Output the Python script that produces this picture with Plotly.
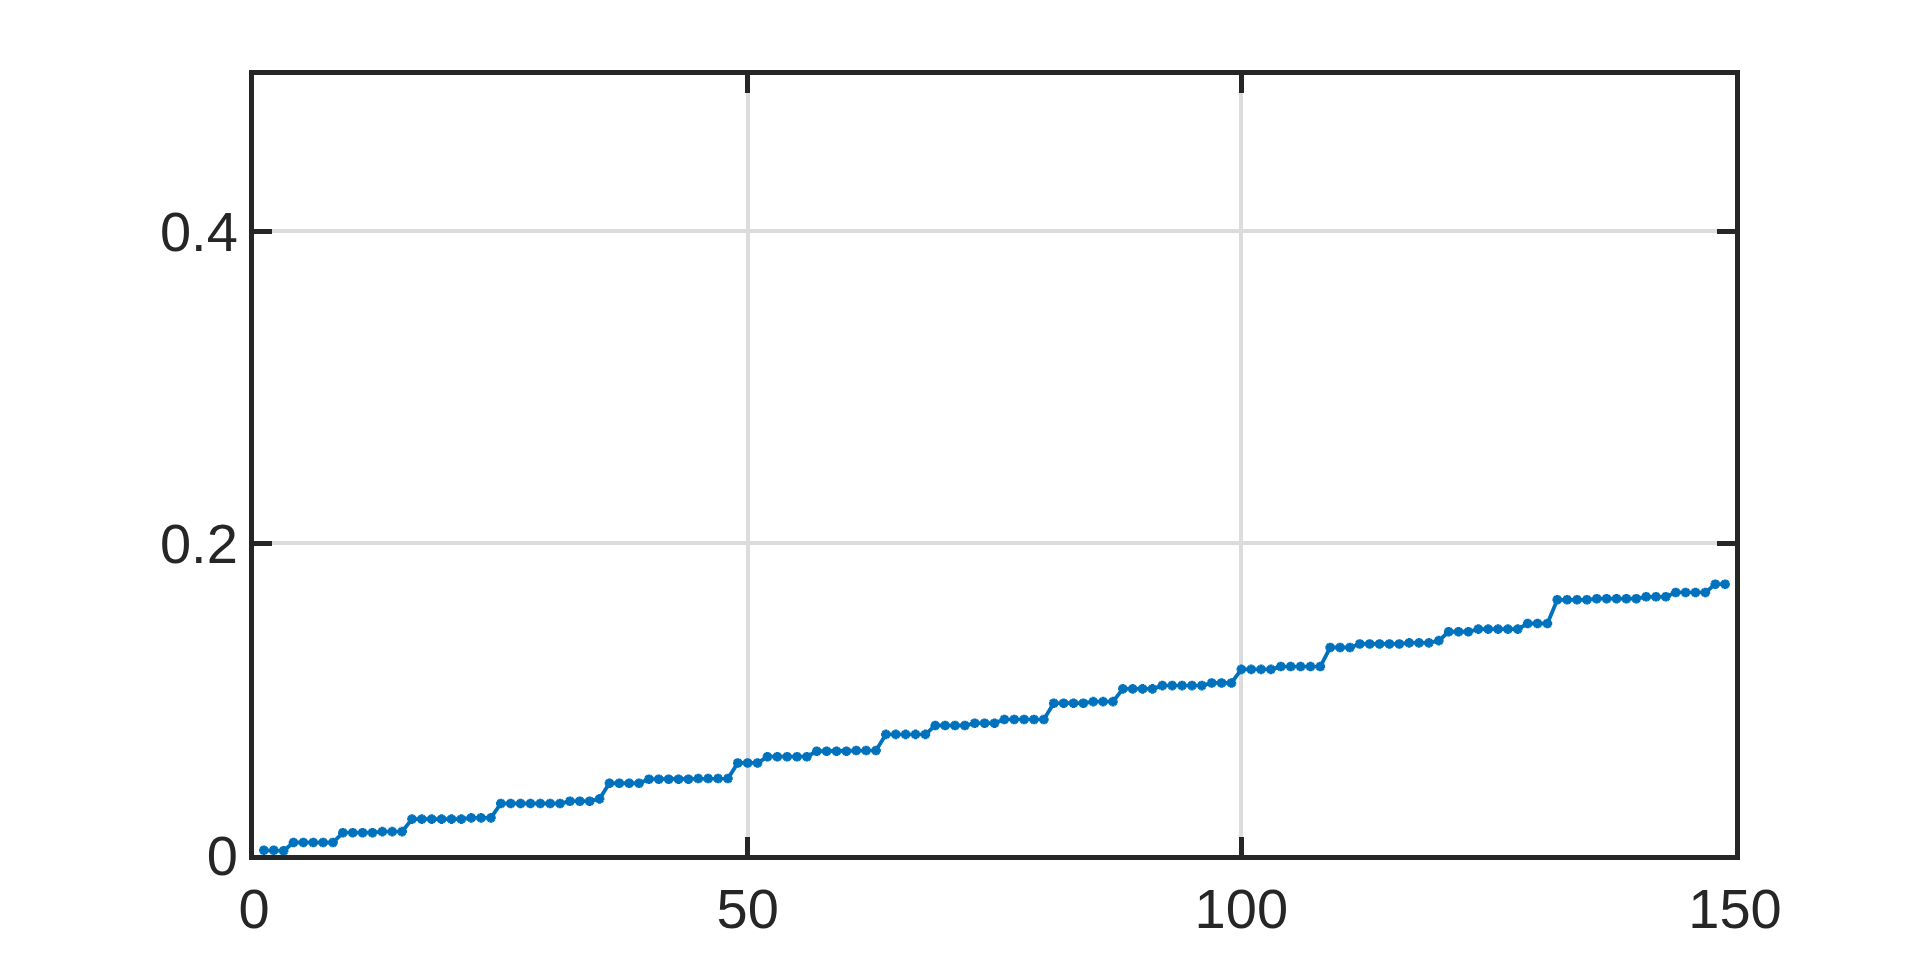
import plotly.graph_objects as go

# Data
x_values = list(range(1, 150))
y_values = [
    0.0030, 0.0030, 0.0027,
    0.0080, 0.0080, 0.0080, 0.0080, 0.0080,
    0.0143, 0.0143, 0.0143, 0.0143, 0.0150, 0.0150, 0.0150,
    0.0230, 0.0230, 0.0230, 0.0230, 0.0230, 0.0230, 0.0238, 0.0238, 0.0238,
    0.0330, 0.0330, 0.0330, 0.0330, 0.0330, 0.0330, 0.0330, 0.0345, 0.0345, 0.0345, 0.0360,
    0.0460, 0.0460, 0.0460, 0.0460,
    0.0486, 0.0486, 0.0486, 0.0486, 0.0486, 0.0490, 0.0490, 0.0490, 0.0490,
    0.0590, 0.0590, 0.0590,
    0.0630, 0.0630, 0.0630, 0.0630, 0.0630,
    0.0665, 0.0665, 0.0665, 0.0665, 0.0670, 0.0670, 0.0670,
    0.0773, 0.0773, 0.0773, 0.0773, 0.0773,
    0.0830, 0.0830, 0.0830, 0.0830, 0.0845, 0.0845, 0.0845,
    0.0869, 0.0869, 0.0869, 0.0869, 0.0869,
    0.0973, 0.0973, 0.0973, 0.0973, 0.0983, 0.0983, 0.0983,
    0.1065, 0.1065, 0.1065, 0.1065, 0.1086, 0.1086, 0.1086, 0.1086, 0.1086, 0.1103, 0.1103, 0.1103,
    0.1190, 0.1190, 0.1190, 0.1190, 0.1208, 0.1208, 0.1208, 0.1208, 0.1208,
    0.1330, 0.1330, 0.1330,
    0.1353, 0.1353, 0.1353, 0.1353, 0.1353, 0.1360, 0.1360, 0.1360,
    0.1374,
    0.1431, 0.1431, 0.1431,
    0.1448, 0.1448, 0.1448, 0.1448, 0.1448,
    0.1484, 0.1484, 0.1484,
    0.1636, 0.1636, 0.1636, 0.1636,
    0.1643, 0.1643, 0.1643, 0.1643, 0.1643,
    0.1655, 0.1655, 0.1655,
    0.1683, 0.1683, 0.1683, 0.1683,
    0.1736, 0.1736,
]

x_ticks = [0, 50, 100, 150]
y_ticks = [0, 0.2, 0.4]
y_tick_labels = ["0", "0.2", "0.4"]

line_color = "#0072BD"
axis_color = "#262626"
grid_color = "#dcdcdc"

fig = go.Figure()
fig.add_trace(go.Scatter(
    x=x_values,
    y=y_values,
    mode="lines+markers",
    line=dict(color=line_color, width=3.8),
    marker=dict(symbol="asterisk-open", size=8, color=line_color,
                line=dict(color=line_color, width=3)),
    showlegend=False,
    hoverinfo="x+y",
))

axis_common = dict(
    showline=True,
    linecolor=axis_color,
    linewidth=5,
    mirror="ticks",
    ticks="inside",
    ticklen=18,
    tickwidth=5,
    tickcolor=axis_color,
    showgrid=True,
    gridcolor=grid_color,
    gridwidth=3.5,
    zeroline=False,
    tickfont=dict(family="Liberation Sans, Arial, sans-serif", size=56, color=axis_color),
)

fig.update_xaxes(range=[0, 150], tickvals=x_ticks, ticktext=[str(v) for v in x_ticks],
                 ticklabelstandoff=1, **axis_common)
fig.update_yaxes(range=[0, 0.5], tickvals=y_ticks, ticktext=y_tick_labels,
                 ticklabelstandoff=0, **axis_common)

fig.update_layout(
    width=1920,
    height=963,
    plot_bgcolor="white",
    paper_bgcolor="white",
    margin=dict(l=246, r=193, t=67, b=116, pad=0),
)

fig.write_html("out.html")
